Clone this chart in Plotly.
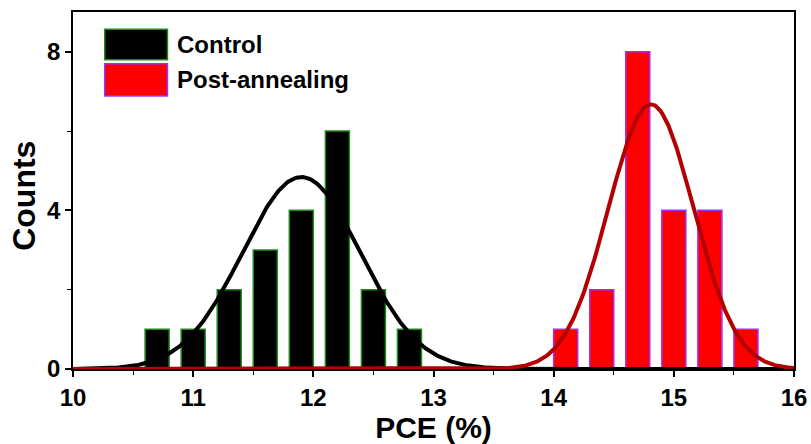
import numpy as np
import plotly.graph_objects as go

# Histogram bins (bin centre, PCE %) and counts
control_x = [10.7, 11.0, 11.3, 11.6, 11.9, 12.2, 12.5, 12.8]
control_counts = [1, 1, 2, 3, 4, 6, 2, 1]
post_x = [14.1, 14.4, 14.7, 15.0, 15.3, 15.6]
post_counts = [1, 2, 8, 4, 4, 1]

# Gaussian fit parameters (centre, sigma, amplitude)
control_fit = dict(xc=11.90, w=0.49, A=4.84)
post_fit = dict(xc=14.81, w=0.355, A=6.67)

x_ticks = [10, 11, 12, 13, 14, 15, 16]
y_ticks = [0, 4, 8]

FONT = "Liberation Sans, Arial, sans-serif"

xf = np.linspace(10, 16, 601)


def gauss(p):
    return p["A"] * np.exp(-((xf - p["xc"]) ** 2) / (2 * p["w"] ** 2))


fig = go.Figure()
fig.add_trace(go.Bar(x=control_x, y=control_counts, width=0.2, name="Control",
                     marker=dict(color="black", line=dict(color="#1f8a1f", width=1.5))))
fig.add_trace(go.Bar(x=post_x, y=post_counts, width=0.2, name="Post-annealing",
                     marker=dict(color="#ff0000", line=dict(color="#9b30ff", width=1.5))))
fig.add_trace(go.Scatter(x=xf, y=gauss(control_fit), mode="lines",
                         line=dict(color="black", width=4), showlegend=False))
fig.add_trace(go.Scatter(x=xf, y=gauss(post_fit), mode="lines",
                         line=dict(color="#b30000", width=4), showlegend=False))

axis_common = dict(showline=True, linecolor="black", linewidth=1.5, mirror=True,
                   ticks="outside", ticklen=6, tickwidth=1.5, tickcolor="black",
                   showgrid=False, zeroline=False, layer="below traces", automargin=False,
                   tickfont=dict(family=FONT, size=24, color="black"))

fig.update_layout(
    width=811, height=444,
    margin=dict(l=73, r=17, t=12, b=75),
    paper_bgcolor="white", plot_bgcolor="white",
    showlegend=False, barmode="overlay",
    xaxis=dict(range=[10, 16], tickvals=x_ticks, ticktext=[f"<b>{v}</b>" for v in x_ticks],
               minor=dict(ticks="outside", dtick=0.5, ticklen=4, tickwidth=1.2, tickcolor="black"),
               title=dict(text="<b>PCE (%)</b>", standoff=6,
                          font=dict(family=FONT, size=30, color="black")),
               **axis_common),
    yaxis=dict(range=[0, 9], tickvals=y_ticks, ticktext=[f"<b>{v}</b>" for v in y_ticks],
               minor=dict(ticks="outside", dtick=2, ticklen=4, tickwidth=1.2, tickcolor="black"),
               **axis_common),
)

# Y-axis title placed as an annotation for precise positioning
fig.add_annotation(xref="paper", yref="paper", x=-0.068, y=0.485, text="<b>Counts</b>",
                   textangle=-90, showarrow=False, xanchor="center", yanchor="middle",
                   font=dict(family=FONT, size=32, color="black"))

# Manual legend with large swatches
legend_items = [("Control", "black", "#1f8a1f", 0.952, 0.866),
                ("Post-annealing", "#ff0000", "#9b30ff", 0.855, 0.765)]
for label, fill, edge, y1, y0 in legend_items:
    fig.add_shape(type="rect", xref="paper", yref="paper", x0=0.044, x1=0.131, y0=y0, y1=y1,
                  fillcolor=fill, line=dict(color=edge, width=1.5))
    fig.add_annotation(xref="paper", yref="paper", x=0.142, y=(y0 + y1) / 2, text=f"<b>{label}</b>",
                       showarrow=False, xanchor="left", yanchor="middle",
                       font=dict(family=FONT, size=24, color="black"))

fig.write_html("out.html")
